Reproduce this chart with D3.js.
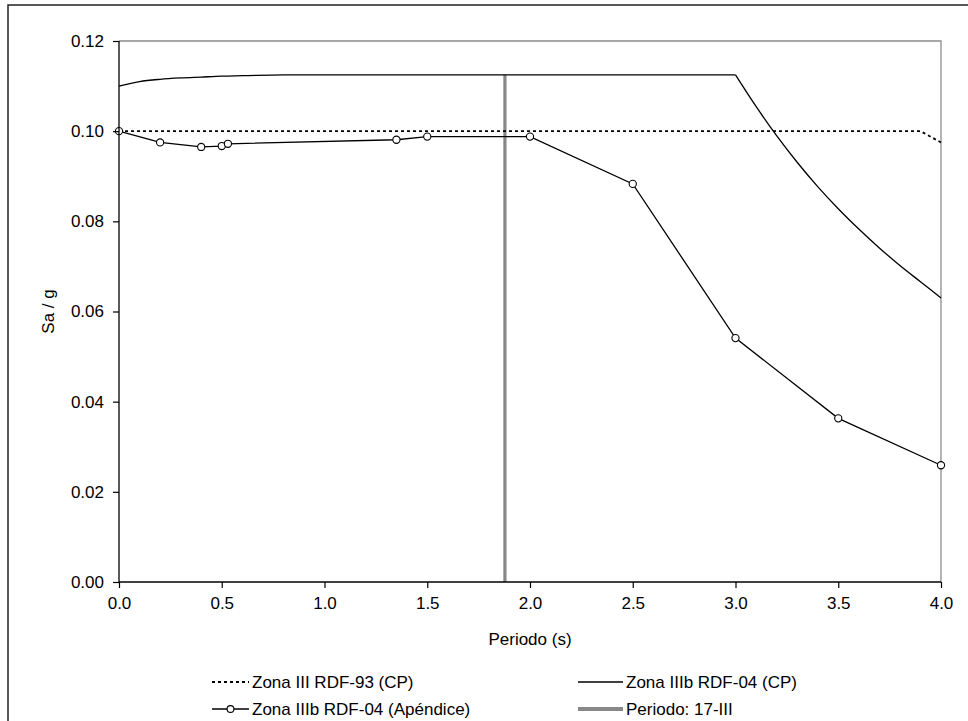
<!DOCTYPE html>
<html>
<head>
<meta charset="utf-8">
<script src="https://cdn.jsdelivr.net/npm/d3@7"></script>
<style>
  body { margin: 0; background: #fff; }
  svg { display: block; font-family: "Liberation Sans", Arial, sans-serif; }
</style>
</head>
<body>
<svg id="chart" width="968" height="721"></svg>
<script>
// ---- data ----
const xTicks = [0, 0.5, 1.0, 1.5, 2.0, 2.5, 3.0, 3.5, 4.0];
const yTicks = [0, 0.02, 0.04, 0.06, 0.08, 0.10, 0.12];

const rdf93T  = [0, 3.9, 4.0];
const rdf93Sa = [0.100, 0.100, 0.0975];

// Zona IIIb RDF-04 (CP): rising branch + plateau, then descending branch
const rdf04RiseT  = [0, 0.1, 0.2, 0.3, 0.4, 0.5, 0.6, 0.8, 1.0, 3.0];
const rdf04RiseSa = [0.1100, 0.1110, 0.1115, 0.1118, 0.1120, 0.1122, 0.1123, 0.1125, 0.1125, 0.1125];
const rdf04DropT  = [3.0, 3.1, 3.2, 3.3, 3.4, 3.5, 3.6, 3.7, 3.8, 3.9, 4.0];
const rdf04DropSa = [0.1125, 0.1055, 0.0990, 0.0931, 0.0877, 0.0828, 0.0783, 0.0741, 0.0702, 0.0666, 0.0630];

const apT  = [0, 0.2, 0.4, 0.5, 0.53, 1.35, 1.5, 2.0, 2.5, 3.0, 3.5, 4.0];
const apSa = [0.1000, 0.0975, 0.0965, 0.0967, 0.0972, 0.0981, 0.0988, 0.0988, 0.0883, 0.0541, 0.0363, 0.0259];

const periodT  = [1.878, 1.878];
const periodSa = [0, 0.1125];

const legendLabels = ["Zona III RDF-93 (CP)", "Zona IIIb RDF-04 (CP)", "Zona IIIb RDF-04 (Apéndice)", "Periodo: 17-III"];

// ---- layout ----
const svg = d3.select("#chart");
const L = 119, T = 41, W = 822, H = 541;
const FS = "17px";
const x = d3.scaleLinear().domain([0, 4]).range([L, L + W]);
const y = d3.scaleLinear().domain([0, 0.12]).range([T + H, T]);

// outer frame
svg.append("rect").attr("x", 8).attr("y", 5).attr("width", 1000).attr("height", 800)
  .attr("fill", "none").attr("stroke", "#222").attr("stroke-width", 1.5);

// plot border (top/right gray)
svg.append("path")
  .attr("d", `M${L},${T}H${L + W}V${T + H}`)
  .attr("fill", "none").attr("stroke", "#8c8c8c").attr("stroke-width", 1.3);

const zip = (a, b) => a.map((v, i) => [v, b[i]]);
const line = d3.line().x(d => x(d[0])).y(d => y(d[1]));
const smooth = d3.line().x(d => x(d[0])).y(d => y(d[1])).curve(d3.curveMonotoneX);

const plot = svg.append("g");

// vertical period line
plot.append("path").datum(zip(periodT, periodSa)).attr("d", line)
  .attr("fill", "none").attr("stroke", "#888").attr("stroke-width", 3.2);

// RDF-93 dotted
plot.append("path").datum(zip(rdf93T, rdf93Sa)).attr("d", line)
  .attr("fill", "none").attr("stroke", "#000").attr("stroke-width", 1.8)
  .attr("stroke-dasharray", "3,3");

// RDF-04 CP
[zip(rdf04RiseT, rdf04RiseSa), zip(rdf04DropT, rdf04DropSa)].forEach(seg => {
  plot.append("path").datum(seg).attr("d", smooth)
    .attr("fill", "none").attr("stroke", "#000").attr("stroke-width", 1.3);
});

// Apéndice
const apData = zip(apT, apSa);
plot.append("path").datum(apData).attr("d", line)
  .attr("fill", "none").attr("stroke", "#000").attr("stroke-width", 1.3);
plot.selectAll("circle.ap").data(apData).join("circle").attr("class", "ap")
  .attr("cx", d => x(d[0])).attr("cy", d => y(d[1])).attr("r", 3.6)
  .attr("fill", "#fff").attr("stroke", "#000").attr("stroke-width", 1.1);

// axes
const yAxis = d3.axisLeft(y).tickValues(yTicks).tickFormat(d3.format(".2f")).tickSize(6).tickPadding(9);
const gy = svg.append("g").attr("transform", `translate(${L},0)`).call(yAxis);
const xAxis = d3.axisBottom(x).tickValues(xTicks).tickFormat(d3.format(".1f")).tickSize(6).tickPadding(9);
const gx = svg.append("g").attr("transform", `translate(0,${T + H})`).call(xAxis);
[gx, gy].forEach(g => {
  g.select(".domain").attr("stroke", "#000").attr("stroke-width", 1.3);
  g.selectAll(".tick line").attr("stroke", "#000").attr("stroke-width", 1.2);
  g.selectAll(".tick text").attr("fill", "#000").style("font-size", FS)
    .style("font-family", '"Liberation Sans", Arial, sans-serif');
});
gx.select(".domain").attr("d", `M${L},0H${L + W}`);
gy.select(".domain").attr("d", `M0,${T}V${T + H}`);

// axis titles
svg.append("text").attr("x", L + W / 2).attr("y", 645).attr("text-anchor", "middle")
  .style("font-size", FS).text("Periodo (s)");
svg.append("text").attr("transform", `translate(54,${T + H / 2}) rotate(-90)`)
  .attr("text-anchor", "middle").style("font-size", FS).text("Sa / g");

// legend
const lg = svg.append("g").style("font-size", FS);
const rows = [682, 709];
const cols = [{s: 212, e: 249, t: 252}, {s: 578, e: 623, t: 626}];
function legItem(col, row, label, style) {
  const c = cols[col], ry = rows[row];
  const p = lg.append("line").attr("x1", c.s).attr("x2", c.e).attr("y1", ry).attr("y2", ry)
    .attr("stroke", style.color).attr("stroke-width", style.w);
  if (style.dash) p.attr("stroke-dasharray", style.dash);
  if (style.marker) lg.append("circle").attr("cx", (c.s + c.e) / 2).attr("cy", ry).attr("r", 3.4)
    .attr("fill", "#fff").attr("stroke", "#000").attr("stroke-width", 1.1);
  lg.append("text").attr("x", c.t).attr("y", ry).attr("dy", "0.35em").text(label);
}
legItem(0, 0, legendLabels[0], {color: "#000", w: 1.8, dash: "3,3"});
legItem(1, 0, legendLabels[1], {color: "#000", w: 1.3});
legItem(0, 1, legendLabels[2], {color: "#000", w: 1.3, marker: true});
legItem(1, 1, legendLabels[3], {color: "#888", w: 4});
</script>
</body>
</html>
